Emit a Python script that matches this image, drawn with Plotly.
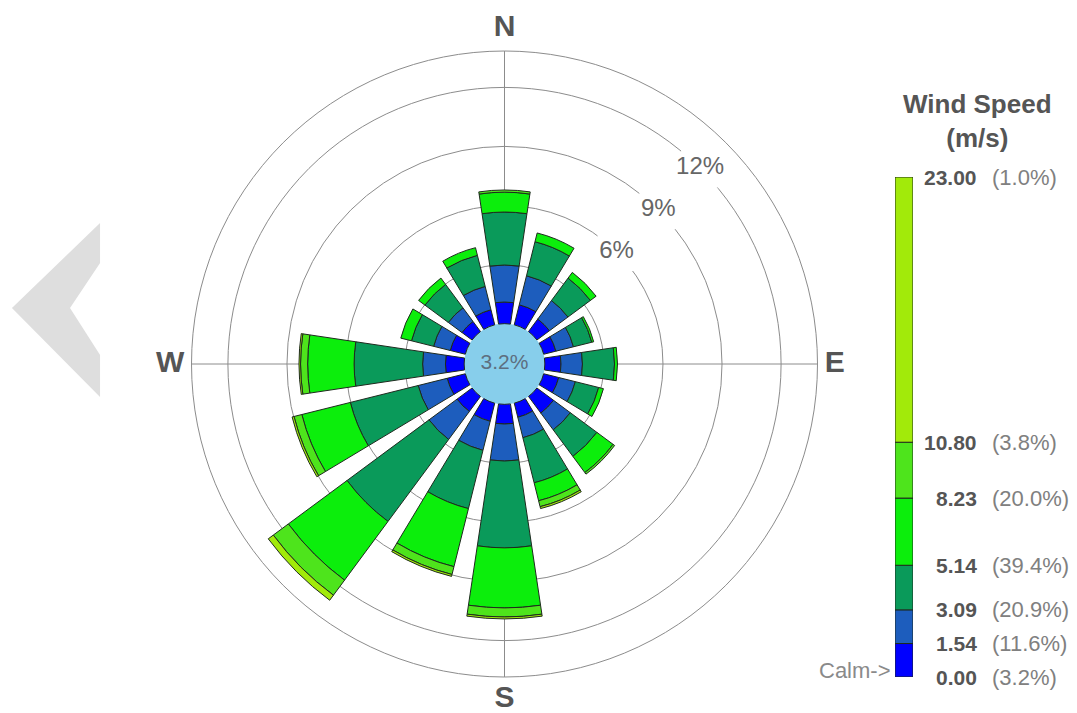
import plotly.graph_objects as go

# ---------------- data ----------------
directions = ["N", "NNE", "NE", "ENE", "E", "ESE", "SE", "SSE",
              "S", "SSW", "SW", "WSW", "W", "WNW", "NW", "NNW"]
direction_deg = [0, 22.5, 45, 67.5, 90, 112.5, 135, 157.5,
                 180, 202.5, 225, 247.5, 270, 292.5, 315, 337.5]

# frequency (%) of each speed class per direction
cls_0_154 = [1.10, 1.05, 0.79, 0.64, 0.82, 0.79, 1.05, 0.74, 1.00, 0.95, 0.95, 0.95, 0.95, 0.79, 0.64, 0.79]
cls_154_309 = [1.88, 1.52, 1.17, 0.92, 1.09, 0.87, 1.06, 1.07, 1.88, 1.52, 1.77, 1.52, 1.16, 0.87, 0.86, 1.22]
cls_309_514 = [2.69, 1.78, 1.42, 0.96, 1.63, 1.22, 1.68, 2.36, 4.41, 3.05, 5.18, 3.55, 3.48, 1.16, 1.48, 1.63]
cls_514_823 = [1.01, 0.46, 0.36, 0.10, 0.15, 0.25, 1.02, 0.94, 3.05, 3.04, 3.71, 2.54, 2.36, 0.56, 0.40, 0.40]
cls_823_1080 = [0.11, 0.00, 0.00, 0.00, 0.00, 0.00, 0.10, 0.31, 0.46, 0.41, 0.95, 0.41, 0.36, 0.00, 0.00, 0.00]
cls_1080_2300 = [0.00, 0.00, 0.00, 0.00, 0.00, 0.00, 0.00, 0.10, 0.10, 0.10, 0.32, 0.10, 0.08, 0.00, 0.00, 0.00]

calm_pct = 3.2
ring_pct = [3, 6, 9, 12]
ring_labels = ["6%", "9%", "12%"]
ring_label_pct = [6, 9, 12]

compass_labels = ["N", "E", "S", "W"]
compass_deg = [0, 90, 180, 270]

speed_bounds = [0.00, 1.54, 3.09, 5.14, 8.23, 10.80, 23.00]
bound_pct = [3.2, 11.6, 20.9, 39.4, 20.0, 3.8, 1.0]

class_colors = ["#0000FF", "#1D5DBD", "#0A9A5A", "#0CEE0C", "#4EE41C", "#A2EA0A"]
classes = [cls_0_154, cls_154_309, cls_309_514, cls_514_823, cls_823_1080, cls_1080_2300]

# ---------------- layout geometry ----------------
W, H = 1077, 713
cx, cy, R = 504.5, 364.0, 313.0
calm_offset = 2.05     # radius of calm circle in % units
r_max = 15.9
FONT = "Liberation Sans, Arial, sans-serif"
GRID = "#8c8c8c"
OUT = "#1e2a1e"

fig = go.Figure()

# calm circle
fig.add_trace(go.Barpolar(theta=[0], r=[calm_offset], base=[0], width=[360],
                          marker=dict(color="#87CEEB", line=dict(width=0)),
                          hoverinfo="skip", showlegend=False))

cum = [calm_offset] * len(directions)
for seg, col in zip(classes, class_colors):
    fig.add_trace(go.Barpolar(theta=direction_deg, r=seg, base=list(cum), width=17,
                              marker=dict(color=col, line=dict(color=OUT, width=1)),
                              hoverinfo="skip", showlegend=False))
    cum = [c + s for c, s in zip(cum, seg)]

# ring labels
fig.add_trace(go.Scatterpolar(r=[calm_offset + p for p in ring_label_pct], theta=[45] * len(ring_label_pct),
                              mode="markers+text", text=ring_labels,
                              marker=dict(symbol="square", size=38, color="white"),
                              textposition="middle center",
                              textfont=dict(size=24, color="#666666", family=FONT),
                              hoverinfo="skip", showlegend=False))
# calm text
fig.add_trace(go.Scatterpolar(r=[0], theta=[0], mode="text", text=[f"{calm_pct:.1f}%"],
                              textfont=dict(size=21, color="#5d6f80", family=FONT),
                              hoverinfo="skip", showlegend=False))
# compass labels (invisible markers set the label offset)
fig.add_trace(go.Scatterpolar(r=[r_max] * 4, theta=compass_deg, mode="markers+text",
                              text=[f"<b>{c}</b>" for c in compass_labels],
                              textposition=["top center", "middle right", "bottom center", "middle left"],
                              marker=dict(size=10, color="rgba(0,0,0,0)"),
                              textfont=dict(size=30, color="#555555", family=FONT),
                              cliponaxis=False, hoverinfo="skip", showlegend=False))

# legend colour bar
for i, col in enumerate(class_colors):
    fig.add_trace(go.Bar(x=[0], y=[speed_bounds[i + 1] - speed_bounds[i]], base=[speed_bounds[i]],
                         width=[1], marker=dict(color=col, line=dict(color=OUT, width=1)),
                         hoverinfo="skip", showlegend=False))

annotations = []
for b, p in zip(speed_bounds, bound_pct):
    annotations.append(dict(x=979 / W, xref="paper", y=b, yref="y", xanchor="right", yanchor="middle",
                            text=f"<b>{b:.2f}</b>", showarrow=False,
                            font=dict(size=21, color="#555555", family=FONT)))
    annotations.append(dict(x=990 / W, xref="paper", y=b, yref="y", xanchor="left", yanchor="middle",
                            text=f"({p:.1f}%)", showarrow=False,
                            font=dict(size=22, color="#808080", family=FONT)))
annotations.append(dict(x=977 / W, xref="paper", y=1 - 121 / H, yref="paper", xanchor="center", yanchor="middle",
                        text="<b>Wind Speed</b><br><b>(m/s)</b>", showarrow=False, align="center",
                        font=dict(size=26, color="#555555", family=FONT)))
annotations.append(dict(x=893 / W, xref="paper", y=0.3, yref="y", xanchor="right", yanchor="middle",
                        text="Calm-&gt;", showarrow=False,
                        font=dict(size=22, color="#8a8a8a", family=FONT)))

# faint watermark chevron on the left
chev = [(100, 223), (12, 308), (100, 397), (100, 355), (70, 308), (100, 263)]
path = "M " + " L ".join(f"{x / W:.4f},{1 - y / H:.4f}" for x, y in chev) + " Z"
shapes = [dict(type="path", xref="paper", yref="paper", path=path,
               fillcolor="#dedede", line=dict(width=0), layer="below")]

fig.update_layout(
    width=W, height=H, margin=dict(l=0, r=0, t=0, b=0),
    paper_bgcolor="white", plot_bgcolor="white", barmode="overlay",
    polar=dict(
        domain=dict(x=[(cx - R) / W, (cx + R) / W], y=[1 - (cy + R) / H, 1 - (cy - R) / H]),
        bgcolor="white", barmode="overlay",
        radialaxis=dict(range=[0, r_max], tickmode="array", tickvals=[calm_offset + p for p in ring_pct],
                        showticklabels=False, ticks="", showline=False,
                        gridcolor=GRID, gridwidth=1, layer="below traces"),
        angularaxis=dict(rotation=90, direction="clockwise", tickmode="array",
                         tickvals=compass_deg, showticklabels=False,
                         showgrid=True, gridcolor=GRID, gridwidth=1,
                         showline=True, linecolor=GRID, linewidth=1, ticks="",
                         layer="below traces"),
    ),
    xaxis=dict(domain=[895 / W, 913 / W], range=[-0.5, 0.5], visible=False, fixedrange=True),
    yaxis=dict(domain=[1 - 677 / H, 1 - 177 / H], range=[0, 23], visible=False, fixedrange=True),
    annotations=annotations,
    shapes=shapes,
)

fig.write_html("out.html")
